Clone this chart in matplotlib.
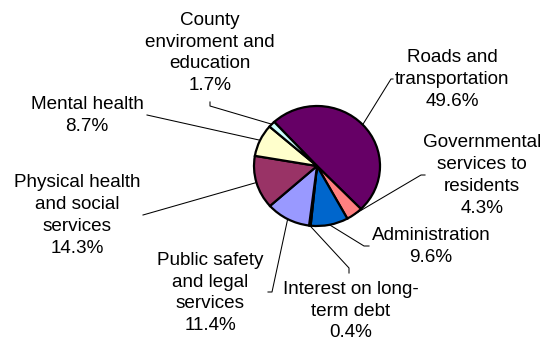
import numpy as np
import matplotlib.pyplot as plt

plt.rcParams['font.family'] = ['Liberation Sans', 'DejaVu Sans']

# data (clockwise from the top-left)
names = ['Roads and\ntransportation',
         'Governmental\nservices to\nresidents',
         'Administration',
         'Interest on long-\nterm debt',
         'Public safety\nand legal\nservices',
         'Physical health\nand social\nservices',
         'Mental health',
         'County\nenviroment and\neducation']
values = [49.6, 4.3, 9.6, 0.4, 11.4, 14.3, 8.7, 1.7]
colors = ['#660066', '#FF8080', '#0066CC', '#CCCCFF',
          '#9999FF', '#993366', '#FFFFCC', '#CCFFFF']

# label block centres and leader start points (pixels, y down)
label_xy = [(452, 79.5), (482, 175.5), (431, 246.5), (351, 311),
            (210, 293), (77, 215.5), (87, 115.5), (210, 53)]
leaders = [[(393, 79), (391, 79)],
           [(425, 175), (421, 175)],
           [(369, 246), (364, 246)],
           [(349, 273), (349, 268)],
           [(268, 292), (272, 292)],
           [(143, 215)],
           [(147, 115)],
           [(210, 102), (210, 106)]]

W, H = 549, 341
CX, CY, RX, RY = 317, 166, 63, 60

fig = plt.figure(figsize=(W / 100, H / 100), dpi=100)

# pie axes placed in pixel units
ax = fig.add_axes([(CX - 1.25 * RX) / W, (H - CY - 1.25 * RY) / H,
                   2.5 * RX / W, 2.5 * RY / H])
wedges, _ = ax.pie(values, colors=colors, startangle=132.8, counterclock=False,
                   wedgeprops=dict(edgecolor='black', linewidth=1.6))
ax.set_aspect('auto')
ax.set_xlim(-1.25, 1.25)
ax.set_ylim(-1.25, 1.25)

# overlay for labels and leader lines
ov = fig.add_axes([0, 0, 1, 1])
ov.set_xlim(0, W)
ov.set_ylim(H, 0)
ov.axis('off')

for w, name, v, (lx, ly), pts in zip(wedges, names, values, label_xy, leaders):
    ov.text(lx, ly, f'{name}\n{v:.1f}%', ha='center', va='center',
            multialignment='center', fontsize=13.6, color='black',
            linespacing=1.38)
    mid = np.deg2rad((w.theta1 + w.theta2) / 2)
    ex, ey = CX + RX * np.cos(mid), CY - RY * np.sin(mid)
    xs = [p[0] for p in pts] + [ex]
    ys = [p[1] for p in pts] + [ey]
    ov.plot(xs, ys, color='black', linewidth=0.75)

fig.savefig('out.png', dpi=100)
